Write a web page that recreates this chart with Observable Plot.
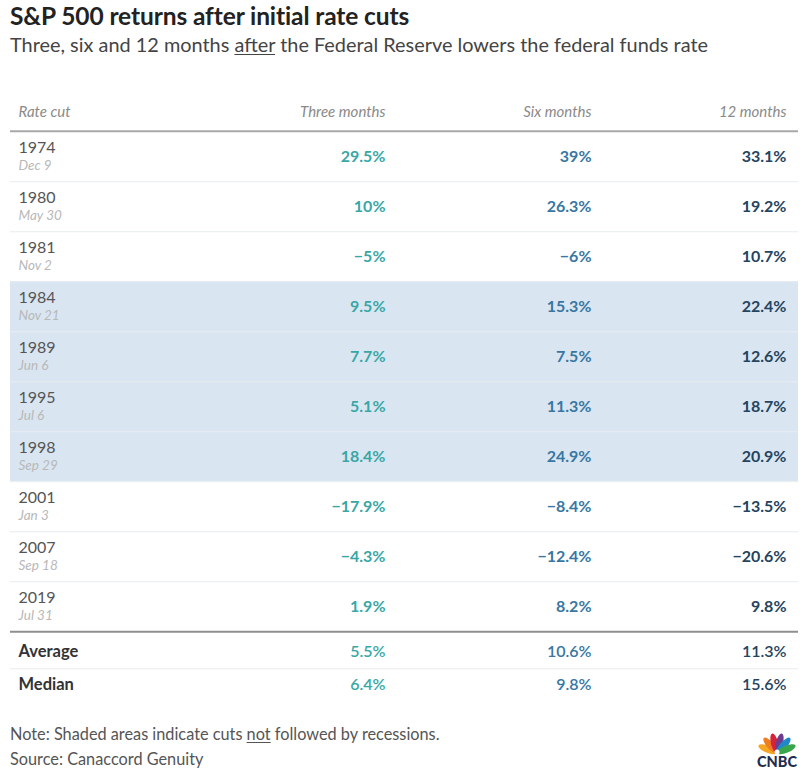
<!DOCTYPE html>
<html>
<head>
<meta charset="utf-8">
<script src="https://cdn.jsdelivr.net/npm/d3@7"></script>
<script src="https://cdn.jsdelivr.net/npm/@observablehq/plot@0.6"></script>
<style>
  html, body { margin: 0; padding: 0; background: #fff; }
  #page { position: relative; width: 808px; height: 779px; overflow: hidden; font-family: Lato, "Open Sans", sans-serif; }
  .title { position: absolute; left: 10px; top: 1px; font-size: 24.5px; font-weight: 700; color: #222; letter-spacing: -0.1px; }
  .subtitle { position: absolute; left: 10px; top: 32px; font-size: 19.9px; color: #444; }
  .note { position: absolute; left: 10px; font-size: 16.3px; color: #555; }
  u { text-decoration-thickness: 1px; text-underline-offset: 2px; }
  #tableA { position: absolute; left: 0; top: 88px; }
  #tableB { position: absolute; left: 0; top: 634px; }
  #logo { position: absolute; left: 753px; top: 724px; }
</style>
</head>
<body>
<div id="page">
  <div class="title">S&amp;P 500 returns after initial rate cuts</div>
  <div class="subtitle">Three, six and 12 months <u>after</u> the Federal Reserve lowers the federal funds rate</div>
  <div id="tableA"></div>
  <div id="tableB"></div>
  <div class="note" style="top:724px">Note: Shaded areas indicate cuts <u>not</u> followed by recessions.</div>
  <div class="note" style="top:749px">Source: Canaccord Genuity</div>
  <svg id="logo" width="48" height="46" viewBox="0 0 48 46">
    <g transform="translate(24,29)">
      <ellipse cx="0" cy="-10" rx="3.6" ry="10" fill="#f5a623" transform="rotate(-68)"/>
      <ellipse cx="0" cy="-10" rx="3.6" ry="10" fill="#ef7d22" transform="rotate(-41)"/>
      <ellipse cx="0" cy="-10" rx="3.6" ry="10" fill="#d6223a" transform="rotate(-14)"/>
      <ellipse cx="0" cy="-10" rx="3.6" ry="10" fill="#6e3b8f" transform="rotate(14)"/>
      <ellipse cx="0" cy="-10" rx="3.6" ry="10" fill="#1e88c8" transform="rotate(41)"/>
      <ellipse cx="0" cy="-10" rx="3.6" ry="10" fill="#3aa64b" transform="rotate(68)"/>
      <circle cx="0" cy="-1" r="2.5" fill="#fff"/>
    </g>
    <text x="24" y="43" text-anchor="middle" font-family="Lato, sans-serif" font-weight="900" font-size="14.5" fill="#1f2d4f">CNBC</text>
  </svg>
</div>
<script>
// ---- data ----
const columns = ["Rate cut", "Three months", "Six months", "12 months"];
const years = ["1974", "1980", "1981", "1984", "1989", "1995", "1998", "2001", "2007", "2019"];
const dates = ["Dec 9", "May 30", "Nov 2", "Nov 21", "Jun 6", "Jul 6", "Sep 29", "Jan 3", "Sep 18", "Jul 31"];
const threeMonths = [29.5, 10, -5, 9.5, 7.7, 5.1, 18.4, -17.9, -4.3, 1.9];
const sixMonths = [39, 26.3, -6, 15.3, 7.5, 11.3, 24.9, -8.4, -12.4, 8.2];
const twelveMonths = [33.1, 19.2, 10.7, 22.4, 12.6, 18.7, 20.9, -13.5, -20.6, 9.8];
const notFollowedByRecession = [false, false, false, true, true, true, true, false, false, false];
const summaryLabels = ["Average", "Median"];
const summaryThree = [5.5, 6.4];
const summarySix = [10.6, 9.8];
const summaryTwelve = [11.3, 15.6];

// ---- styles ----
const valueColumns = columns.slice(1);
const columnColors = ["#39a7a6", "#3877a3", "#24445f"];
const valueDx = [-19, -10, -12]; // right-edge inset per value column
const font = "Lato, 'Open Sans', sans-serif";
const fmt = v => (v < 0 ? "\u2212" : "") + Math.abs(v) + "%";

// long-format tables
const valueSeries = [threeMonths, sixMonths, twelveMonths];
const cells = [];
years.forEach((y, i) => valueColumns.forEach((c, j) => cells.push({row: y, col: c, value: valueSeries[j][i]})));
const summarySeries = [summaryThree, summarySix, summaryTwelve];
const summaryCells = [];
summaryLabels.forEach((s, i) => valueColumns.forEach((c, j) => summaryCells.push({row: s, col: c, value: summarySeries[j][i]})));
const shadedCells = [];
years.forEach((y, i) => { if (notFollowedByRecession[i]) columns.forEach(c => shadedCells.push({row: y, col: c})); });
const rowInfo = years.map((y, i) => ({row: y, date: dates[i]}));

const W = 808;
const xScale = {type: "band", domain: columns, padding: 0};
const colorScale = {domain: valueColumns, range: columnColors};

// ---- main table ----
const bwA = (546 - 40 - 1) / years.length;
const bx = (W - 20) / columns.length;
const marksA = [
  Plot.cell(shadedCells, {x: "col", y: "row", fill: "#d9e6f1", inset: 0}),
  Plot.ruleY(years.slice(0, -1), {y: d => d, dy: bwA / 2, stroke: "#e6ecf1", strokeWidth: 1.2}),
  Plot.ruleY([years[0]], {y: d => d, dy: -bwA / 2, stroke: "#a8a8a8", strokeWidth: 2}),
  Plot.ruleY([years[years.length - 1]], {y: d => d, dy: bwA / 2, stroke: "#8e8e8e", strokeWidth: 2}),
  // header
  Plot.text([columns[0]], {x: d => d, frameAnchor: "top", dy: -22, dx: -bx / 2 + 8, textAnchor: "start", fill: "#8a8a8a", fontStyle: "italic", fontSize: 15}),
  // year + date
  Plot.text(rowInfo, {x: () => columns[0], y: "row", text: "row", dy: -9, dx: -bx / 2 + 8, textAnchor: "start", fill: "#555", fontSize: 16}),
  Plot.text(rowInfo, {x: () => columns[0], y: "row", text: "date", dy: 9, dx: -bx / 2 + 8, textAnchor: "start", fill: "#b8b8b8", fontStyle: "italic", fontSize: 13.5})
];
valueColumns.forEach((c, j) => {
  marksA.push(Plot.text([c], {x: d => d, frameAnchor: "top", dy: -22, dx: bx / 2 + valueDx[j], textAnchor: "end", fill: "#8a8a8a", fontStyle: "italic", fontSize: 15}));
  marksA.push(Plot.text(cells.filter(d => d.col === c), {x: "col", y: "row", text: d => fmt(d.value), fill: "col", dx: bx / 2 + valueDx[j], textAnchor: "end", fontWeight: 700, fontSize: 16}));
});

const plotA = Plot.plot({
  width: W, height: 546,
  marginTop: 40, marginBottom: 1, marginLeft: 10, marginRight: 10,
  style: {fontFamily: font, background: "transparent", overflow: "visible"},
  x: {...xScale, axis: null},
  y: {type: "band", domain: years, padding: 0, axis: null},
  color: colorScale,
  marks: marksA
});
document.getElementById("tableA").appendChild(plotA);

// ---- summary rows ----
const marksB = [
  Plot.ruleY([summaryLabels[0]], {y: d => d, dy: 67 / 4, stroke: "#ececec", strokeWidth: 1.2}),
  Plot.text(summaryLabels, {x: () => columns[0], y: d => d, dx: -bx / 2 + 8, textAnchor: "start", fill: "#333", fontWeight: 700, fontSize: 16.5})
];
valueColumns.forEach((c, j) => {
  marksB.push(Plot.text(summaryCells.filter(d => d.col === c), {x: "col", y: "row", text: d => fmt(d.value), fill: "col", dx: bx / 2 + valueDx[j], textAnchor: "end", fontWeight: 600, fontSize: 16}));
});
const plotB = Plot.plot({
  width: W, height: 68,
  marginTop: 0, marginBottom: 1, marginLeft: 10, marginRight: 10,
  style: {fontFamily: font, background: "transparent", overflow: "visible"},
  x: {...xScale, axis: null},
  y: {type: "band", domain: summaryLabels, padding: 0, axis: null},
  color: colorScale,
  marks: marksB
});
document.getElementById("tableB").appendChild(plotB);
</script>
</body>
</html>
